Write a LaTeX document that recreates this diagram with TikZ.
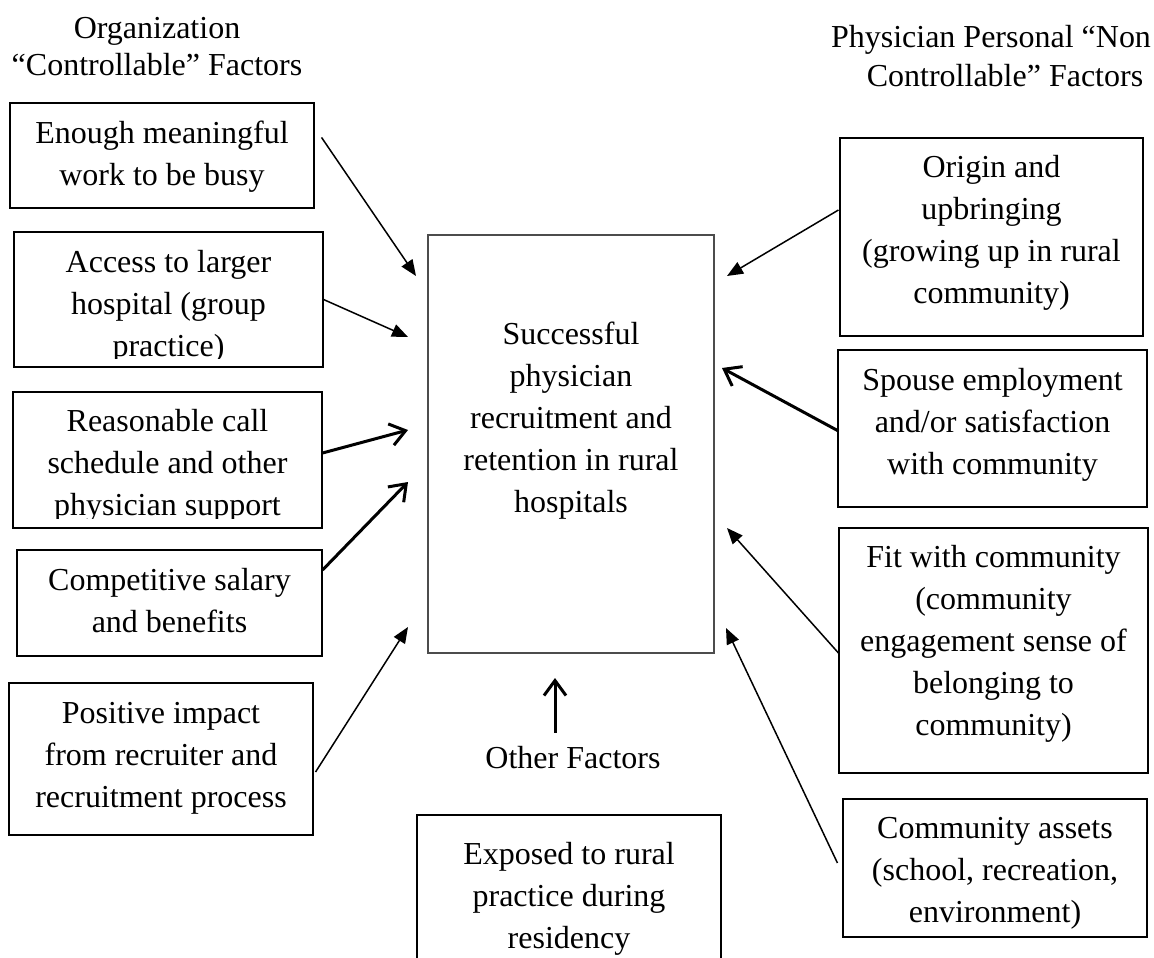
\documentclass[tikz,border=0pt]{standalone}
\usepackage{fontspec}
\setmainfont{Liberation Serif}
\usetikzlibrary{arrows.meta,calc}
\newcommand\ml[1]{\begin{tabular}[t]{@{}c@{}}#1\end{tabular}}
\begin{document}
\begin{tikzpicture}[x=1pt,y=-1pt,
  boxst/.style={draw=black, line width=1.1pt, inner sep=0pt, fill=none},
  txt/.style={anchor=base, inner sep=0pt, font=\fontsize{32}{42}\selectfont},
  thinarr/.style={line width=1.5pt, -{Triangle[length=16pt,width=13pt]}},
  thickarr/.style={line width=3pt, -{Straight Barb[length=15pt,width=22pt]}}]
\useasboundingbox (0,0) rectangle (1154,958);
\fill[white] (0,0) rectangle (1154,958);

% titles
\node[txt] (tl1) at (157,39) {Organization};
\node[txt] (tl2) at (157,76) {“Controllable” Factors};
\node[txt] (tr1) at (991,48) {Physician Personal “Non};
\node[txt] (tr2) at (1005,86) {Controllable” Factors};

% boxes
\node[boxst, minimum width=304pt, minimum height=105pt] (b1) at (162,155.5) {};
\node[boxst, minimum width=309pt, minimum height=135pt] (b2) at (168.5,299.5) {};
\node[boxst, minimum width=309pt, minimum height=136pt] (b3) at (167.5,460) {};
\node[boxst, minimum width=305pt, minimum height=106pt] (b4) at (169.5,603) {};
\node[boxst, minimum width=304pt, minimum height=152pt] (b5) at (161,759) {};
\node[boxst, draw=black!70, minimum width=286pt, minimum height=418pt] (cb) at (571,444) {};
\node[boxst, minimum width=303pt, minimum height=198pt] (r1) at (991.5,237) {};
\node[boxst, minimum width=309pt, minimum height=157pt] (r2) at (992.5,428.5) {};
\node[boxst, minimum width=309pt, minimum height=245pt] (r3) at (993.5,650.5) {};
\node[boxst, minimum width=304pt, minimum height=138pt] (r4) at (995,868) {};
\node[boxst, minimum width=304pt, minimum height=185pt] (bb) at (569,907.5) {};

% box texts
\node[txt] (x1) at (162,143) {\ml{Enough meaningful\\work to be busy}};
\begin{scope}
  \clip (b2.north west) rectangle ($(b2.south east)+(0,-9.5)$);
  \node[txt] (x2) at (168.5,272) {\ml{Access to larger\\hospital (group\\practice)}};
\end{scope}
\begin{scope}
  \clip (b3.north west) rectangle ($(b3.south east)+(0,-10)$);
  \node[txt] (x3) at (167.5,431) {\ml{Reasonable call\\schedule and other\\physician support}};
\end{scope}
\node[txt] (x4) at (169.5,590) {\ml{Competitive salary\\and benefits}};
\node[txt] (x5) at (161,723) {\ml{Positive impact\\from recruiter and\\recruitment process}};
\node[txt] (xc) at (571,344) {\ml{Successful\\physician\\recruitment and\\retention in rural\\hospitals}};
\node[txt] (y1) at (991.5,177) {\ml{Origin and\\upbringing\\(growing up in rural\\community)}};
\node[txt] (y2) at (992.5,390) {\ml{Spouse employment\\and/or satisfaction\\with community}};
\node[txt] (y3) at (993.5,567) {\ml{Fit with community\\(community\\engagement sense of\\belonging to\\community)}};
\node[txt] (y4) at (995,838) {\ml{Community assets\\(school, recreation,\\environment)}};
\node[txt] (xb) at (569,864) {\ml{Exposed to rural\\practice during\\residency}};
\node[txt] (of) at (573,768) {Other Factors};

% arrow tips
\coordinate (t1) at (416,276);
\coordinate (t2) at (408,337);
\coordinate (t3) at (408,430);
\coordinate (t4) at (408,482);
\coordinate (t5) at (408,627);
\coordinate (t6) at (727,276);
\coordinate (t7) at (722,368);
\coordinate (t8) at (727,528);
\coordinate (t9) at (726,628);
\coordinate (t10) at (555,678);

% connectors
\draw[thinarr] ($(b1.north east)+(7,35)$) -- (t1);
\draw[thinarr] (b2.east) -- (t2);
\draw[thickarr] ($(b3.east)+(0,-7)$) -- (t3);
\draw[thickarr] ($(b4.east)+(0,-33)$) -- (t4);
\draw[thinarr] ($(b5.east)+(2,13)$) -- (t5);
\draw[thinarr] ($(r1.west)+(-1,-27)$) -- (t6);
\draw[thickarr] ($(r2.west)+(1,2.5)$) -- (t7);
\draw[thinarr] ($(r3.west)+(0,2.5)$) -- (t8);
\draw[thinarr] ($(r4.west)+(-5,-5)$) -- (t9);
\draw[thickarr] ($(of.north)+(-18,-13)$) -- (t10);
\end{tikzpicture}
\end{document}
